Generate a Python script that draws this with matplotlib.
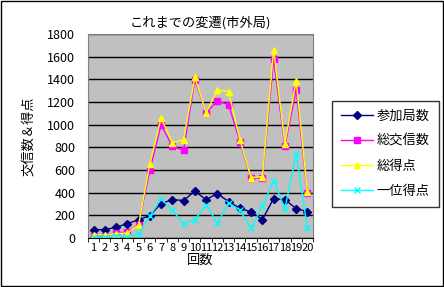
import numpy as np
import matplotlib.pyplot as plt

plt.rcParams['font.family'] = ['Noto Sans CJK JP', 'DejaVu Sans']

rounds = [str(i) for i in range(1, 21)]
stations = [73, 73, 94, 126, 160, 197, 303, 338, 330, 412,
            338, 391, 320, 262, 229, 162, 347, 338, 259, 232]
contacts = [15, 20, 45, 50, 118, 597, 997, 809, 774, 1397,
            1103, 1209, 1176, 850, 529, 529, 1574, 809, 1303, 397]
total_pts = [30, 26, 38, 44, 115, 653, 1059, 838, 868, 1418,
             1103, 1303, 1291, 868, 532, 541, 1662, 832, 1388, 406]
top_pts = [9, 9, 20, 9, 38, 191, 344, 244, 126, 162,
           288, 132, 309, 244, 85, 279, 506, 256, 744, 85]

fig = plt.figure(figsize=(4.44, 2.87), dpi=100)
fig.patch.set_facecolor('white')
fig.patches.append(plt.Rectangle((0.002, 0.003), 0.995, 0.993, transform=fig.transFigure,
                                 fill=False, edgecolor='black', linewidth=1))
ax = fig.add_axes([0.198, 0.171, 0.507, 0.711])
ax.set_facecolor('#C0C0C0')

x = np.arange(len(rounds))
ax.plot(x, stations, color='#000080', marker='D', markersize=4, linewidth=1, label='参加局数')
ax.plot(x, contacts, color='#FF00FF', marker='s', markersize=5, linewidth=1, label='総交信数')
ax.plot(x, total_pts, color='#FFFF00', marker='^', markersize=5, linewidth=1, label='総得点')
ax.plot(x, top_pts, color='#00FFFF', marker='x', markersize=5, linewidth=1, label='一位得点')

ax.set_xlim(-0.5, len(rounds) - 0.5)
ax.set_ylim(0, 1800)
ax.set_yticks(range(0, 1801, 200))
ax.yaxis.grid(True, color='black', linewidth=1)
ax.set_axisbelow(True)
ax.set_xticks(x)
ax.set_xticklabels(rounds, fontsize=8)
ax.set_xticks(np.arange(-0.5, len(rounds), 1), minor=True)
ax.tick_params(axis='x', which='major', length=0, pad=4)
ax.tick_params(axis='x', which='minor', length=3, color='black')
ax.tick_params(axis='y', length=0, labelsize=9, pad=9)
for s in ['top', 'right', 'left']:
    ax.spines[s].set_color('#808080')
ax.spines['bottom'].set_color('black')

ax.set_title('これまでの変遷(市外局)', fontsize=9.5, pad=5)
ax.set_xlabel('回数', fontsize=9.5, labelpad=0)
ax.set_ylabel('交信数＆得点', fontsize=9.5, labelpad=8)

leg = fig.legend(loc='upper left', bbox_to_anchor=(0.732, 0.672), fontsize=9.5,
                 frameon=True, fancybox=False, edgecolor='black', handlelength=2.4,
                 labelspacing=0.9, borderpad=0.7, handletextpad=0.3)
leg.get_frame().set_linewidth(1)

fig.savefig('out.png', dpi=100)
